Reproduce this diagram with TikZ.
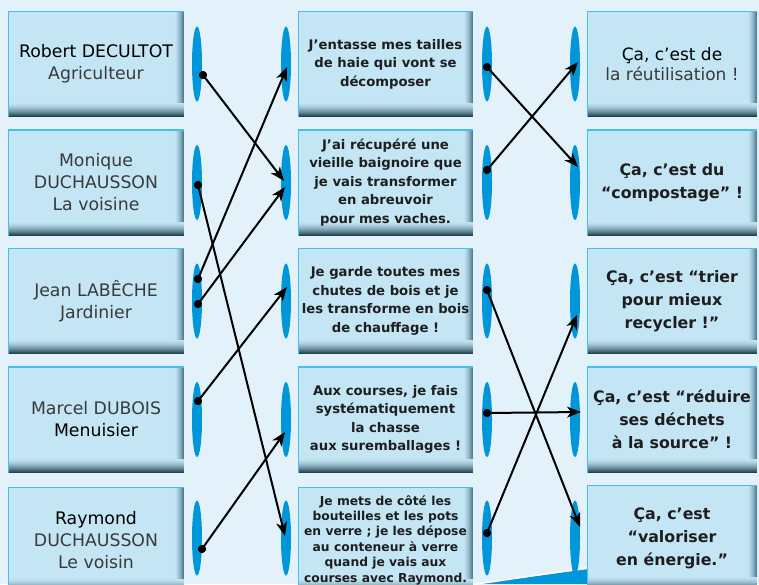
\documentclass[tikz,border=0pt]{standalone}
\usepackage{fontspec}
\setmainfont{DejaVu Sans}
\usetikzlibrary{arrows.meta,shapes.geometric}
\definecolor{bgblue}{HTML}{E3F2FA}
\definecolor{boxfill}{HTML}{C3E5F4}
\definecolor{boxshade}{HTML}{4F7F90}
\definecolor{boxdark}{HTML}{1E4452}
\definecolor{boxedge}{HTML}{45C0EE}
\definecolor{ellblue}{HTML}{0096DA}
\definecolor{txtgray}{HTML}{3A3A3A}
\definecolor{txtdark}{HTML}{1E1E1E}
\tikzset{
  card/.style={minimum width=#1, minimum height=106pt, inner sep=0pt, fill=boxfill, align=center,
    path picture={
      \foreach \k in {1,...,9}{
        \pgfmathsetmacro{\pc}{100*((10-\k)/9)^1.6}
        \fill[boxshade!\pc!boxfill]
          ([xshift={-(\k)*1pt}]path picture bounding box.north east) rectangle
          ([xshift={-(\k-1)*1pt}]path picture bounding box.south east);
      }
      \foreach \k in {1,...,14}{
        \pgfmathsetmacro{\pc}{100*((15-\k)/14)^1.6}
        \fill[boxdark!\pc!boxfill]
          ([yshift={(\k-1)*1pt}]path picture bounding box.south west) rectangle
          ([yshift={(\k)*1pt}]path picture bounding box.south east);
      }
      \draw[boxedge, line width=2pt]
        (path picture bounding box.south west) -- (path picture bounding box.north west) -- (path picture bounding box.north east);
    }},
  lefttxt/.style={font=\fontsize{17.3}{22}\selectfont, text=txtgray},
  midtxt/.style={font=\fontsize{13.2}{18.5}\selectfont\bfseries, text=txtdark},
  righttxt/.style={font=\fontsize{15.8}{23}\selectfont\bfseries, text=txtdark},
  lens/.style={ellipse, fill=ellblue, minimum width=10pt, minimum height=75pt, inner sep=0pt},
  conn/.style={line width=2pt, -{Stealth[length=14pt,width=11pt,inset=4pt]}},
  dot/.style={circle, fill=black, minimum size=8pt, inner sep=0pt}
}
\begin{document}
\begin{tikzpicture}[x=1pt,y=-1pt]
\useasboundingbox (0,0) rectangle (759,584);
\fill[bgblue] (0,0) rectangle (759,584);
\clip (0,0) rectangle (759,584);

% bottom decoration
\fill[ellblue] (476,584) -- (589,569) -- (589,584) -- cycle;
\draw[white, line width=1.5pt] (470,585) -- (589,567.5);

% left column
\node[card=176pt, lefttxt] (L1) at (96,64) {{\color{black}Robert DECULTOT}\\Agriculteur};
\node[card=176pt, lefttxt] (L2) at (96,182.5) {Monique\\DUCHAUSSON\\La voisine};
\node[card=176pt, lefttxt] (L3) at (96,301) {Jean LABÊCHE\\Jardinier};
\node[card=176pt, lefttxt] (L4) at (96,419.5) {Marcel DUBOIS\\{\color{black}Menuisier}};
\node[card=176pt, lefttxt] (L5) at (96,540) {{\color{black}Raymond}\\DUCHAUSSON\\Le voisin};

% middle column
\node[card=175pt, midtxt] (M1) at (385.5,64) {J’entasse mes tailles\\de haie qui vont se\\décomposer};
\node[card=175pt, midtxt] (M2) at (385.5,182.5) {J’ai récupéré une\\vieille baignoire que\\je vais transformer\\en abreuvoir\\pour mes vaches.};
\node[card=175pt, midtxt] (M3) at (385.5,301) {Je garde toutes mes\\chutes de bois et je\\les transforme en bois\\de chauffage !};
\node[card=175pt, midtxt] (M4) at (385.5,419.5) {Aux courses, je fais\\systématiquement\\la chasse\\aux suremballages !};
\node[card=175pt, midtxt, font=\fontsize{12.3}{15.4}\selectfont\bfseries] (M5) at (385.5,540) {Je mets de côté les\\bouteilles et les pots\\en verre ; je les dépose\\au conteneur à verre\\quand je vais aux\\courses avec Raymond.};

% right column
\node[card=170pt, font=\fontsize{17}{20}\selectfont, text=black] (R1) at (672,64) {Ça, c’est de\\{\color{txtgray}la réutilisation !}};
\node[card=170pt, righttxt] (R2) at (672,182.5) {Ça, c’est du\\“compostage” !};
\node[card=170pt, righttxt] (R3) at (672,301) {Ça, c’est “trier\\pour mieux\\recycler !”};
\node[card=170pt, righttxt] (R4) at (672,419.5) {Ça, c’est “réduire\\ses déchets\\à la source” !};
\node[card=170pt, righttxt] (R5) at (672,538) {Ça, c’est\\“valoriser\\en énergie.”};

% ellipses
\foreach \y [count=\i] in {64,182.5,301,419.5,538}{
  \node[lens] (ea\i) at (197,\y) {};
  \node[lens] (eb\i) at (286,\y) {};
  \node[lens] (ec\i) at (487,\y) {};
  \node[lens] (ed\i) at (575,\y) {};
}

% dots (start points)
\node[dot] (dR)  at (203,75) {};
\node[dot] (dM)  at (198,185) {};
\node[dot] (dJa) at (198,279) {};
\node[dot] (dJb) at (198,304) {};
\node[dot] (dMa) at (198,401) {};
\node[dot] (dRa) at (202,549) {};
\node[dot] (m1) at (487,67) {};
\node[dot] (m2) at (487,170) {};
\node[dot] (m3) at (487,290) {};
\node[dot] (m4) at (487,413) {};
\node[dot] (m5) at (487,533) {};

% targets
\coordinate (tA)  at (287,67);
\coordinate (tB1) at (284,181);
\coordinate (tB2) at (285,187);
\coordinate (tC)  at (287,287);
\coordinate (tD)  at (285,432);
\coordinate (tE)  at (285,536);
\coordinate (r1) at (578,62);
\coordinate (r2) at (578,167);
\coordinate (r3) at (577,315);
\coordinate (r4) at (581,412);
\coordinate (r5) at (580,527);

\draw[conn] (dR.center) -- (tB1);
\draw[conn] (dM.center) -- (tE);
\draw[conn] (dJa.center) -- (tA);
\draw[conn] (dJb.center) -- (tB2);
\draw[conn] (dMa.center) -- (tC);
\draw[conn] (dRa.center) -- (tD);
\draw[conn] (m1.center) -- (r2);
\draw[conn] (m2.center) -- (r1);
\draw[conn] (m3.center) -- (r5);
\draw[conn] (m4.center) -- (r4);
\draw[conn] (m5.center) -- (r3);

% redraw dots on top
\foreach \d in {dR,dM,dJa,dJb,dMa,dRa,m1,m2,m3,m4,m5}{
  \fill (\d.center) circle (4pt);
}
\end{tikzpicture}
\end{document}
